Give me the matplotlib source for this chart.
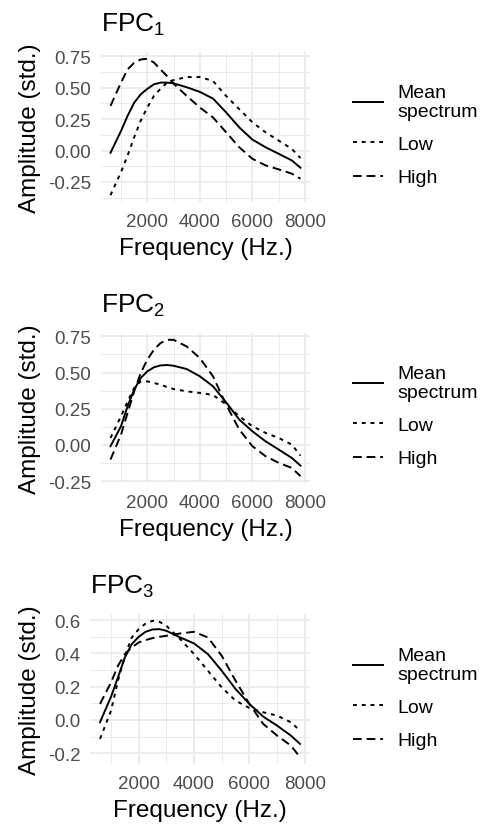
import matplotlib
matplotlib.use("Agg")
import matplotlib.pyplot as plt

plt.rcParams['font.family'] = ['Liberation Sans', 'DejaVu Sans']
plt.rcParams['mathtext.fontset'] = 'custom'
plt.rcParams['mathtext.rm'] = 'Liberation Sans'
plt.rcParams['mathtext.it'] = 'Liberation Sans:italic'

# frequency grid (Hz.)
freq = [600, 1000, 1250, 1500, 1750, 2000, 2250, 2500, 2750, 3000,
        3500, 4000, 4500, 5000, 5500, 6000, 6500, 7000, 7500, 7830]

# FPC1
fpc1_mean = [-0.018, 0.155, 0.276, 0.38, 0.447, 0.49, 0.526, 0.54, 0.54, 0.534,
             0.503, 0.466, 0.413, 0.303, 0.184, 0.087, 0.026, -0.026, -0.079, -0.137]
fpc1_low = [-0.355, -0.171, -0.04, 0.105, 0.237, 0.342, 0.434, 0.49, 0.539, 0.56,
            0.584, 0.584, 0.553, 0.434, 0.329, 0.224, 0.145, 0.079, 0.013, -0.06]
fpc1_high = [0.355, 0.54, 0.645, 0.697, 0.724, 0.729, 0.70, 0.645, 0.592, 0.532,
             0.434, 0.342, 0.263, 0.145, 0.026, -0.066, -0.118, -0.15, -0.184, -0.224]

# FPC2
fpc2_mean = [-0.009, 0.129, 0.267, 0.382, 0.462, 0.508, 0.536, 0.549, 0.552, 0.547,
             0.524, 0.474, 0.405, 0.294, 0.175, 0.094, 0.025, -0.032, -0.09, -0.143]
fpc2_low = [0.048, 0.198, 0.30, 0.393, 0.439, 0.439, 0.428, 0.416, 0.40, 0.386,
            0.37, 0.359, 0.345, 0.28, 0.198, 0.129, 0.083, 0.048, 0.002, -0.074]
fpc2_high = [-0.101, 0.071, 0.221, 0.37, 0.497, 0.589, 0.657, 0.703, 0.726, 0.726,
             0.68, 0.60, 0.474, 0.278, 0.106, -0.009, -0.078, -0.124, -0.159, -0.216]

# FPC3
fpc3_mean = [-0.014, 0.14, 0.256, 0.376, 0.456, 0.50, 0.53, 0.544, 0.546, 0.536,
             0.496, 0.46, 0.396, 0.296, 0.186, 0.096, 0.02, -0.034, -0.094, -0.144]
fpc3_low = [-0.114, 0.056, 0.236, 0.386, 0.496, 0.546, 0.58, 0.596, 0.59, 0.566,
            0.486, 0.396, 0.296, 0.196, 0.116, 0.072, 0.046, 0.026, -0.014, -0.064]
fpc3_high = [0.096, 0.226, 0.326, 0.396, 0.436, 0.466, 0.48, 0.492, 0.50, 0.506,
             0.52, 0.53, 0.496, 0.386, 0.236, 0.096, -0.024, -0.094, -0.154, -0.224]

titles = [r'FPC$_\mathrm{1}$', r'FPC$_\mathrm{2}$', r'FPC$_\mathrm{3}$']
series_labels = ['Mean\nspectrum', 'Low', 'High']
ytick_sets = [[-0.25, 0.0, 0.25, 0.5, 0.75],
              [-0.25, 0.0, 0.25, 0.5, 0.75],
              [-0.2, 0.0, 0.2, 0.4, 0.6]]
ytick_labels = [['-0.25', '0.00', '0.25', '0.50', '0.75'],
                ['-0.25', '0.00', '0.25', '0.50', '0.75'],
                ['-0.2', '0.0', '0.2', '0.4', '0.6']]
xticks = [2000, 4000, 6000, 8000]
xminor = [1000, 3000, 5000, 7000]

panels = [(fpc1_mean, fpc1_low, fpc1_high),
          (fpc2_mean, fpc2_low, fpc2_high),
          (fpc3_mean, fpc3_low, fpc3_high)]

W, H = 483, 828
# panel boxes in pixels: left, right, top, bottom
boxes = [(101, 310, 53, 203), (101, 310, 334, 484), (90, 310, 615, 765)]
legend_y = [136, 417, 699]

fig = plt.figure(figsize=(W / 100, H / 100), dpi=100)
grid_col = '#EBEBEB'
styles = ['-', (0, (2, 2.5)), (0, (4.5, 2.5))]

for i, (mean, low, high) in enumerate(panels):
    l, r, t, b = boxes[i]
    ax = fig.add_axes([l / W, 1 - b / H, (r - l) / W, (b - t) / H])
    handles = []
    for ys, ls in zip((mean, low, high), styles):
        h, = ax.plot(freq, ys, color='black', lw=1.4, linestyle=ls)
        handles.append(h)
    ax.set_xticks(xticks)
    ax.set_xticks(xminor, minor=True)
    yt = ytick_sets[i]
    ax.set_yticks(yt)
    ax.set_yticklabels(ytick_labels[i])
    step = yt[1] - yt[0]
    ax.set_yticks([v + step / 2 for v in [yt[0] - step] + yt], minor=True)
    ax.margins(x=0.05, y=0.05)
    ax.autoscale_view()
    ax.set_xlim(ax.get_xlim())
    ax.set_ylim(ax.get_ylim())
    ax.grid(True, which='major', color=grid_col, lw=1.3)
    ax.grid(True, which='minor', color=grid_col, lw=0.7)
    ax.set_axisbelow(True)
    for s in ax.spines.values():
        s.set_visible(False)
    ax.tick_params(which='both', length=0)
    ax.tick_params(axis='x', labelsize=13.5, labelcolor='#4D4D4D', pad=8)
    ax.tick_params(axis='y', labelsize=13.5, labelcolor='#4D4D4D', pad=7)
    ax.set_xlabel('Frequency (Hz.)', fontsize=17.5, labelpad=5)
    ax.set_ylabel('Amplitude (std.)', fontsize=17.5, labelpad=5)
    ax.set_title(titles[i], loc='left', fontsize=19, pad=15)
    fig.legend(handles, series_labels, loc='center left',
               bbox_to_anchor=(335 / W, 1 - legend_y[i] / H),
               frameon=False, fontsize=14, handlelength=1.55,
               handletextpad=0.75, labelspacing=0.8)

fig.savefig('out.png', dpi=100)
